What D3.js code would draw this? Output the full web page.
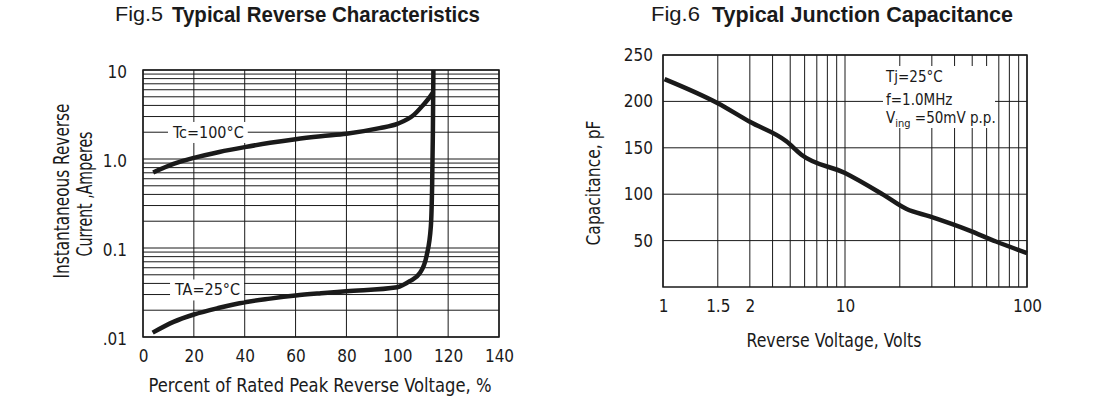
<!DOCTYPE html>
<html lang="en">
<head>
  <meta charset="UTF-8">
  <title>Fig.5 / Fig.6</title>
  <style>
    body { margin: 0; background: #fff; }
    text { font-family: 'Liberation Sans Narrow', 'DejaVu Sans Condensed', 'Arial Narrow', sans-serif; fill: #1a1a1a; }
    .bold { font-family: 'Liberation Sans', Arial, sans-serif; font-weight: bold; }
    .plain { font-family: 'Liberation Sans', Arial, sans-serif; }
  </style>
</head>
<body>
  <svg id="svg" width="1100" height="398"></svg>

  <script src="https://d3js.org/d3.v7.min.js"></script>
  <script>
    // Fig.5 data - percent of rated voltage vs reverse current (A)
    const pctTicks = [0, 20, 40, 60, 80, 100, 120, 140]
    const currentTicks = [0.01, 0.1, 1, 10]
    const currentTickLabels = ['.01', '0.1', '1.0', '10']

    const tc100Pct = [4, 12, 20, 30, 40, 50, 60, 70, 80, 93, 100, 106.5, 110.2, 112.9, 114.2]
    const tc100Amp = [0.706, 0.88, 1.03, 1.2, 1.36, 1.52, 1.67, 1.8, 1.92, 2.22, 2.48, 3.13, 4.05, 5.02, 5.7]

    const ta25Pct = [3.8, 12, 20, 30, 40, 50, 60, 70, 80, 100, 104.9, 108.8, 111.5, 113.2, 113.7, 114.0, 114.2]
    const ta25Amp = [0.0112, 0.0148, 0.0179, 0.0213, 0.0246, 0.027, 0.0292, 0.031, 0.0327, 0.0363, 0.0424, 0.052, 0.081, 0.175, 0.5, 2, 10]

    // Fig.6 data - reverse voltage (V) vs capacitance (pF)
    const voltTicks = [1, 2, 3, 10, 100]
    const voltTickLabels = ['1', '1.5', '2', '10', '100']
    const capTicks = [50, 100, 150, 200, 250]

    const capVolts = [1.02, 2, 3, 4.76, 5.76, 10, 16.2, 21.8, 29.2, 48, 67.5, 100]
    const capPf = [224, 198, 178, 157, 142.6, 122.8, 99.5, 84, 76, 61, 49, 36.6]

    const svg = d3.select('#svg')
    const ink = '#1a1a1a'

    // ---------- Fig.5 ----------
    const xL = d3.scaleLinear().domain([0, 140]).range([143, 499])
    const yL = d3.scaleLog().domain([0.01, 10]).range([337, 70])

    const left = svg.append('g')

    // grid
    left.append('g')
      .selectAll('line')
      .data(yL.ticks())
      .enter()
      .append('line')
      .attr('x1', xL(0)).attr('x2', xL(140))
      .attr('y1', d => yL(d)).attr('y2', d => yL(d))
      .attr('stroke', ink).attr('stroke-width', 1)

    left.append('g')
      .selectAll('line')
      .data(pctTicks)
      .enter()
      .append('line')
      .attr('x1', d => xL(d)).attr('x2', d => xL(d))
      .attr('y1', yL(0.01)).attr('y2', yL(10))
      .attr('stroke', ink).attr('stroke-width', 1)

    left.append('rect')
      .attr('x', xL(0)).attr('y', yL(10))
      .attr('width', xL(140) - xL(0)).attr('height', yL(0.01) - yL(10))
      .attr('fill', 'none').attr('stroke', ink).attr('stroke-width', 1.5)

    // axes (labels only)
    left.append('g')
      .attr('transform', `translate(${xL(0)},0)`)
      .call(d3.axisLeft(yL).tickValues(currentTicks)
        .tickFormat((d, i) => currentTickLabels[i]).tickSize(0).tickPadding(16))
      .call(g => g.select('.domain').remove())
      .selectAll('text').style('font-size', '17px').attr('dy', '0.45em')

    left.append('g')
      .attr('transform', `translate(0,${yL(0.01)})`)
      .call(d3.axisBottom(xL).tickValues(pctTicks).tickSize(0).tickPadding(13))
      .call(g => g.select('.domain').remove())
      .selectAll('text').style('font-size', '17px')

    // curves
    const lineL = d3.line()
      .x(d => xL(d[0])).y(d => yL(d[1]))
      .curve(d3.curveMonotoneX)

    left.append('path')
      .attr('d', lineL(ta25Pct.map((p, i) => [p, ta25Amp[i]])))
      .attr('fill', 'none').attr('stroke', ink).attr('stroke-width', 4.5)
      .attr('stroke-linejoin', 'round')

    left.append('path')
      .attr('d', lineL(tc100Pct.map((p, i) => [p, tc100Amp[i]])))
      .attr('fill', 'none').attr('stroke', ink).attr('stroke-width', 4.5)
      .attr('stroke-linecap', 'butt')

    // curve labels with white background
    function boxedLabel(g, x, y, txt) {
      const t = g.append('text')
        .attr('x', x).attr('y', y).attr('dy', '0.36em')
        .style('font-size', '16px')
        .text(txt)
      const b = t.node().getBBox()
      g.insert('rect', 'text')
        .attr('x', b.x - 4).attr('y', b.y - 1)
        .attr('width', b.width + 8).attr('height', b.height + 2)
        .attr('fill', '#fff')
    }
    boxedLabel(left.append('g'), xL(11.8), yL(2), 'Tc=100°C')
    boxedLabel(left.append('g'), xL(12.6), yL(0.034), 'TA=25°C')

    // titles
    left.append('text')
      .attr('x', 320).attr('y', 392).attr('text-anchor', 'middle')
      .attr('textLength', 343).attr('lengthAdjust', 'spacingAndGlyphs')
      .style('font-size', '19px')
      .text('Percent of Rated Peak  Reverse  Voltage, %')

    left.append('text')
      .attr('transform', 'translate(69,191) rotate(-90)')
      .attr('text-anchor', 'middle')
      .attr('textLength', 175).attr('lengthAdjust', 'spacingAndGlyphs')
      .style('font-size', '21px')
      .text('Instantaneous Reverse')

    left.append('text')
      .attr('transform', 'translate(92,194) rotate(-90)')
      .attr('text-anchor', 'middle')
      .attr('textLength', 125).attr('lengthAdjust', 'spacingAndGlyphs')
      .style('font-size', '21px')
      .text('Current ,Amperes')

    left.append('text')
      .attr('class', 'plain')
      .attr('x', 115).attr('y', 21)
      .attr('textLength', 48).attr('lengthAdjust', 'spacingAndGlyphs')
      .style('font-size', '21px')
      .text('Fig.5')

    left.append('text')
      .attr('class', 'bold')
      .attr('x', 172).attr('y', 22)
      .attr('textLength', 308).attr('lengthAdjust', 'spacingAndGlyphs')
      .style('font-size', '22px')
      .text('Typical Reverse  Characteristics')

    // ---------- Fig.6 ----------
    const xR = d3.scaleLog().domain([1, 100]).range([663, 1027])
    const yR = d3.scaleLinear().domain([0, 250]).range([287, 55])

    const right = svg.append('g')

    right.append('g')
      .selectAll('line')
      .data(xR.ticks())
      .enter()
      .append('line')
      .attr('x1', d => xR(d)).attr('x2', d => xR(d))
      .attr('y1', yR(0)).attr('y2', yR(250))
      .attr('stroke', ink).attr('stroke-width', 1)

    right.append('g')
      .selectAll('line')
      .data(capTicks)
      .enter()
      .append('line')
      .attr('x1', xR(1)).attr('x2', xR(100))
      .attr('y1', d => yR(d)).attr('y2', d => yR(d))
      .attr('stroke', ink).attr('stroke-width', 1)

    right.append('rect')
      .attr('x', xR(1)).attr('y', yR(250))
      .attr('width', xR(100) - xR(1)).attr('height', yR(0) - yR(250))
      .attr('fill', 'none').attr('stroke', ink).attr('stroke-width', 1.5)

    right.append('g')
      .attr('transform', `translate(${xR(1)},0)`)
      .call(d3.axisLeft(yR).tickValues(capTicks).tickSize(0).tickPadding(10))
      .call(g => g.select('.domain').remove())
      .selectAll('text').style('font-size', '17px')

    right.append('g')
      .attr('transform', `translate(0,${yR(0)})`)
      .call(d3.axisBottom(xR).tickValues(voltTicks)
        .tickFormat((d, i) => voltTickLabels[i]).tickSize(0).tickPadding(13))
      .call(g => g.select('.domain').remove())
      .selectAll('text').style('font-size', '17px')

    // annotation block
    const note = right.append('g')
    const noteBg = note.append('rect').attr('fill', '#fff')
    note.append('text').attr('x', 886).attr('y', 82).style('font-size', '15px').text('Tj=25°C')
    note.append('text').attr('x', 886).attr('y', 105).style('font-size', '15px').text('f=1.0MHz')
    const vt = note.append('text').attr('x', 886).attr('y', 123).style('font-size', '15px')
    vt.append('tspan').text('V')
    vt.append('tspan').attr('dy', 4).style('font-size', '11px').text('ing')
    vt.append('tspan').attr('dy', -4).text(' =50mV p.p.')
    noteBg.attr('x', 883).attr('y', 66).attr('width', 112).attr('height', 62)

    right.append('path')
      .attr('d', d3.line()
        .x(d => xR(d[0])).y(d => yR(d[1]))
        .curve(d3.curveMonotoneX)(capVolts.map((v, i) => [v, capPf[i]])))
      .attr('fill', 'none').attr('stroke', ink).attr('stroke-width', 4.5)
      .attr('stroke-linejoin', 'round')

    right.append('text')
      .attr('x', 834).attr('y', 347).attr('text-anchor', 'middle')
      .attr('textLength', 175).attr('lengthAdjust', 'spacingAndGlyphs')
      .style('font-size', '20px')
      .text('Reverse Voltage, Volts')

    right.append('text')
      .attr('transform', 'translate(600,183) rotate(-90)')
      .attr('text-anchor', 'middle')
      .attr('textLength', 125).attr('lengthAdjust', 'spacingAndGlyphs')
      .style('font-size', '20px')
      .text('Capacitance, pF')

    right.append('text')
      .attr('class', 'plain')
      .attr('x', 651).attr('y', 21)
      .attr('textLength', 49).attr('lengthAdjust', 'spacingAndGlyphs')
      .style('font-size', '21px')
      .text('Fig.6')

    right.append('text')
      .attr('class', 'bold')
      .attr('x', 712).attr('y', 22)
      .attr('textLength', 301).attr('lengthAdjust', 'spacingAndGlyphs')
      .style('font-size', '22px')
      .text('Typical Junction Capacitance')
  </script>
</body>
</html>
